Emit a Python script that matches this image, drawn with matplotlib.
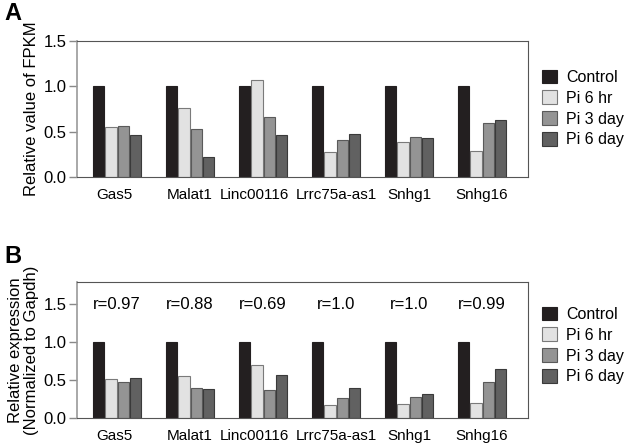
import matplotlib
matplotlib.use("Agg")
import matplotlib.pyplot as plt
import numpy as np

plt.rcParams['font.family'] = ['Liberation Sans', 'DejaVu Sans']

genes = ["Gas5", "Malat1", "Linc00116", "Lrrc75a-as1", "Snhg1", "Snhg16"]
series = ["Control", "Pi 6 hr", "Pi 3 day", "Pi 6 day"]

# panel A: relative FPKM
fpkm_control = [1.0, 1.0, 1.0, 1.0, 1.0, 1.0]
fpkm_pi6hr = [0.55, 0.76, 1.07, 0.28, 0.39, 0.29]
fpkm_pi3day = [0.56, 0.53, 0.66, 0.41, 0.44, 0.60]
fpkm_pi6day = [0.46, 0.22, 0.46, 0.47, 0.43, 0.63]

# panel B: qPCR relative expression
qpcr_control = [1.0, 1.0, 1.0, 1.0, 1.0, 1.0]
qpcr_pi6hr = [0.51, 0.55, 0.70, 0.17, 0.185, 0.20]
qpcr_pi3day = [0.48, 0.40, 0.37, 0.26, 0.27, 0.48]
qpcr_pi6day = [0.53, 0.38, 0.56, 0.39, 0.31, 0.64]
r_labels = ["r=0.97", "r=0.88", "r=0.69", "r=1.0", "r=1.0", "r=0.99"]

colors = ["#231f20", "#e2e2e2", "#949494", "#616161"]
edges = ["#231f20", "#7a7a7a", "#5a5a5a", "#3a3a3a"]
label_shift = [-0.04, 0, -0.12, 0, 0, 0]  # labels in the original sit a bit off-centre

fig = plt.figure(figsize=(6.25, 4.44), dpi=100)
W, H = 625, 444
axA = fig.add_axes([77 / W, 1 - 177 / H, 451 / W, 136 / H])
axB = fig.add_axes([77 / W, 1 - 418 / H, 451 / W, 136 / H])

x = np.arange(len(genes))
bw = 0.168


def draw(ax, data, ylim, leg_y):
    for i, vals in enumerate(data):
        ax.bar(x + (i - 1.5) * bw, vals, bw * 0.92, color=colors[i],
               edgecolor=edges[i], linewidth=0.8, label=series[i])
    ax.set_xlim(-0.55, 5.63)
    ax.set_ylim(0, ylim)
    ax.set_yticks([0, 0.5, 1.0, 1.5])
    ax.set_yticklabels(["0.0", "0.5", "1.0", "1.5"], fontsize=12)
    ax.set_xticks(x + np.array(label_shift))
    ax.set_xticklabels(genes, fontsize=11)
    ax.tick_params(axis='x', length=0, pad=8)
    ax.tick_params(axis='y', length=6, width=1, color="#888888", pad=1.5)
    for s in ["top", "right", "bottom"]:
        ax.spines[s].set_color("#555555")
        ax.spines[s].set_linewidth(0.8)
    ax.spines["left"].set_color("#999999")
    ax.spines["left"].set_linewidth(1.2)
    ax.legend(loc="center left", bbox_to_anchor=(1.017, leg_y), frameon=False,
              fontsize=11.5, handlelength=0.94, handleheight=0.94,
              handletextpad=0.55, labelspacing=0.34, borderaxespad=0,
              borderpad=0.4)


draw(axA, [fpkm_control, fpkm_pi6hr, fpkm_pi3day, fpkm_pi6day], 1.5, 0.504)
axA.set_ylabel("Relative value of FPKM", fontsize=12, labelpad=3)

draw(axB, [qpcr_control, qpcr_pi6hr, qpcr_pi3day, qpcr_pi6day], 1.79, 0.533)
axB.set_ylabel("Relative expression\n(Normalized to Gapdh)", fontsize=12,
               labelpad=3, linespacing=1.1)
for xi, lab in zip(x, r_labels):
    axB.text(xi, 1.5, lab, ha="center", va="center", fontsize=12)

fig.text(4 / W, 1 - 2 / H, "A", fontsize=17, fontweight="bold", va="top")
fig.text(4 / W, 1 - 245 / H, "B", fontsize=17, fontweight="bold", va="top")

fig.savefig("out.png", dpi=100)
